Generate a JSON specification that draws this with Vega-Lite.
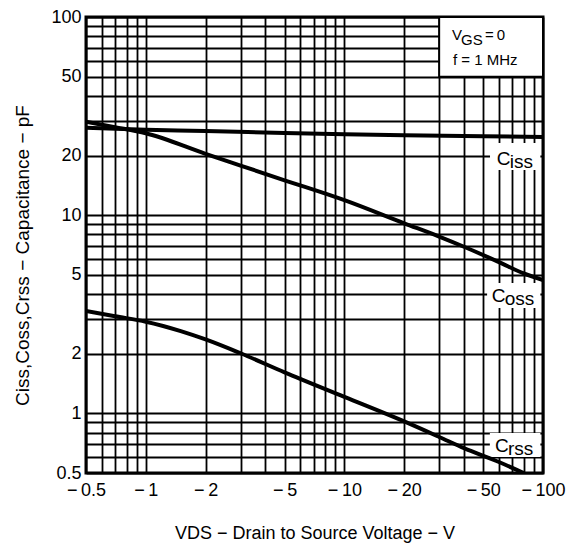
{
  "$schema": "https://vega.github.io/schema/vega-lite/v6.json",
  "width": 457,
  "height": 456,
  "autosize": {"type": "none"},
  "padding": {"left": 86, "top": 17, "right": 27, "bottom": 73},
  "background": "white",
  "config": {
    "font": "Liberation Sans",
    "view": {"stroke": "black", "strokeWidth": 3}
  },
  "datasets": {
    "curves": [
      {"curve": "Ciss", "vds": 0.5, "cap": 27.6},
      {"curve": "Ciss", "vds": 1, "cap": 27.0},
      {"curve": "Ciss", "vds": 2, "cap": 26.6},
      {"curve": "Ciss", "vds": 5, "cap": 26.0},
      {"curve": "Ciss", "vds": 10, "cap": 25.6},
      {"curve": "Ciss", "vds": 20, "cap": 25.3},
      {"curve": "Ciss", "vds": 50, "cap": 25.0},
      {"curve": "Ciss", "vds": 100, "cap": 24.8},
      {"curve": "Coss", "vds": 0.5, "cap": 29.6},
      {"curve": "Coss", "vds": 0.7, "cap": 27.8},
      {"curve": "Coss", "vds": 1, "cap": 25.9},
      {"curve": "Coss", "vds": 2, "cap": 20.4},
      {"curve": "Coss", "vds": 3, "cap": 17.8},
      {"curve": "Coss", "vds": 5, "cap": 15.0},
      {"curve": "Coss", "vds": 10, "cap": 11.9},
      {"curve": "Coss", "vds": 20, "cap": 9.1},
      {"curve": "Coss", "vds": 30, "cap": 7.8},
      {"curve": "Coss", "vds": 40, "cap": 6.93},
      {"curve": "Coss", "vds": 60, "cap": 5.8},
      {"curve": "Coss", "vds": 80, "cap": 5.08},
      {"curve": "Coss", "vds": 100, "cap": 4.7},
      {"curve": "Crss", "vds": 0.5, "cap": 3.29},
      {"curve": "Crss", "vds": 0.7, "cap": 3.09},
      {"curve": "Crss", "vds": 1, "cap": 2.9},
      {"curve": "Crss", "vds": 1.5, "cap": 2.6},
      {"curve": "Crss", "vds": 2, "cap": 2.36},
      {"curve": "Crss", "vds": 3, "cap": 2.01},
      {"curve": "Crss", "vds": 5, "cap": 1.61},
      {"curve": "Crss", "vds": 10, "cap": 1.21},
      {"curve": "Crss", "vds": 20, "cap": 0.91},
      {"curve": "Crss", "vds": 30, "cap": 0.76},
      {"curve": "Crss", "vds": 40, "cap": 0.667},
      {"curve": "Crss", "vds": 60, "cap": 0.568},
      {"curve": "Crss", "vds": 80, "cap": 0.5}
    ],
    "boxes": [
      {"kind": "note", "vds": 30, "vds2": 100, "cap": 50, "cap2": 100},
      {"kind": "Ciss", "vds": 54.1, "vds2": 97, "cap": 16.9, "cap2": 23.1},
      {"kind": "Coss", "vds": 52.3, "vds2": 97, "cap": 3.4, "cap2": 4.55},
      {"kind": "Crss", "vds": 54, "vds2": 97, "cap": 0.602, "cap2": 0.796}
    ],
    "labels": [
      {"curve": "Ciss", "main": "C", "sub": "iss", "vds": 58.5, "cap": 17.9},
      {"curve": "Coss", "main": "C", "sub": "oss", "vds": 55.2, "cap": 3.66},
      {"curve": "Crss", "main": "C", "sub": "rss", "vds": 57.3, "cap": 0.641}
    ],
    "note": [
      {"text": "V", "vds": 34.8, "cap": 76.6},
      {"text": "GS", "vds": 38.7, "cap": 72.2},
      {"text": "=\u20090", "vds": 51.0, "cap": 76.6},
      {"text": "f = 1 MHz", "vds": 35.2, "cap": 57.2}
    ]
  },
  "encoding": {
    "x": {
      "field": "vds",
      "type": "quantitative",
      "scale": {"type": "log", "domain": [0.5, 100], "nice": false},
      "axis": {
        "title": "VDS − Drain to Source Voltage − V",
        "titleFont": "Liberation Sans",
        "titleFontSize": 18,
        "titleFontWeight": "normal",
        "titleColor": "black",
        "titleY": 60,
        "titleBaseline": "middle",
        "values": [0.5, 0.6, 0.7, 0.8, 0.9, 1, 2, 3, 4, 5, 6, 7, 8, 9, 10, 20, 30, 40, 50, 60, 70, 80, 90, 100],
        "labelExpr": "indexof([0.5, 1, 2, 5, 10, 20, 50, 100], datum.value) >= 0 ? '−\u2009' + datum.value : ''",
        "labelFontSize": 18,
        "labelColor": "black",
        "labelPadding": 8,
        "labelFlush": false,
        "labelOverlap": false,
        "labelBound": false,
        "ticks": false,
        "domain": false,
        "grid": true,
        "gridColor": "black",
        "gridWidth": 1.8,
        "gridOpacity": 1
      }
    },
    "y": {
      "field": "cap",
      "type": "quantitative",
      "scale": {"type": "log", "domain": [0.5, 100], "nice": false},
      "axis": {
        "title": "Ciss,Coss,Crss − Capacitance − pF",
        "titleFont": "Liberation Sans",
        "titleFontSize": 19,
        "titleFontWeight": "normal",
        "titleColor": "black",
        "titleX": -64,
        "titleY": 238,
        "titleAngle": 270,
        "titleBaseline": "middle",
        "titleAlign": "center",
        "values": [0.5, 0.6, 0.7, 0.8, 0.9, 1, 2, 3, 4, 5, 6, 7, 8, 9, 10, 20, 30, 40, 50, 60, 70, 80, 90, 100],
        "labelExpr": "indexof([0.5, 1, 2, 5, 10, 20, 50, 100], datum.value) >= 0 ? '' + datum.value : ''",
        "labelFontSize": 18,
        "labelColor": "black",
        "labelPadding": 5,
        "labelFlush": false,
        "labelOverlap": false,
        "labelBound": false,
        "ticks": false,
        "domain": false,
        "grid": true,
        "gridColor": "black",
        "gridWidth": 1.8,
        "gridOpacity": 1
      }
    }
  },
  "layer": [
    {
      "data": {"name": "boxes"},
      "transform": [{"filter": "datum.kind != 'note'"}],
      "mark": {"type": "rect", "fill": "white", "stroke": null},
      "encoding": {"x2": {"field": "vds2"}, "y2": {"field": "cap2"}}
    },
    {
      "data": {"name": "curves"},
      "mark": {"type": "line", "color": "black", "strokeWidth": 4, "interpolate": "monotone", "clip": true},
      "encoding": {"detail": {"field": "curve", "type": "nominal"}}
    },
    {
      "data": {"name": "boxes"},
      "transform": [{"filter": "datum.kind == 'note'"}],
      "mark": {"type": "rect", "fill": "white", "stroke": "black", "strokeWidth": 2},
      "encoding": {"x2": {"field": "vds2"}, "y2": {"field": "cap2"}}
    },
    {
      "data": {"name": "labels"},
      "mark": {"type": "text", "align": "left", "baseline": "alphabetic", "fontSize": 19, "color": "black"},
      "encoding": {"text": {"field": "main"}}
    },
    {
      "data": {"name": "labels"},
      "mark": {"type": "text", "align": "left", "baseline": "alphabetic", "fontSize": 19, "color": "black", "dx": 13, "dy": 3},
      "encoding": {"text": {"field": "sub"}}
    },
    {
      "data": {"name": "note"},
      "mark": {"type": "text", "align": "left", "baseline": "alphabetic", "fontSize": 15, "color": "black"},
      "encoding": {"text": {"field": "text"}}
    }
  ]
}
